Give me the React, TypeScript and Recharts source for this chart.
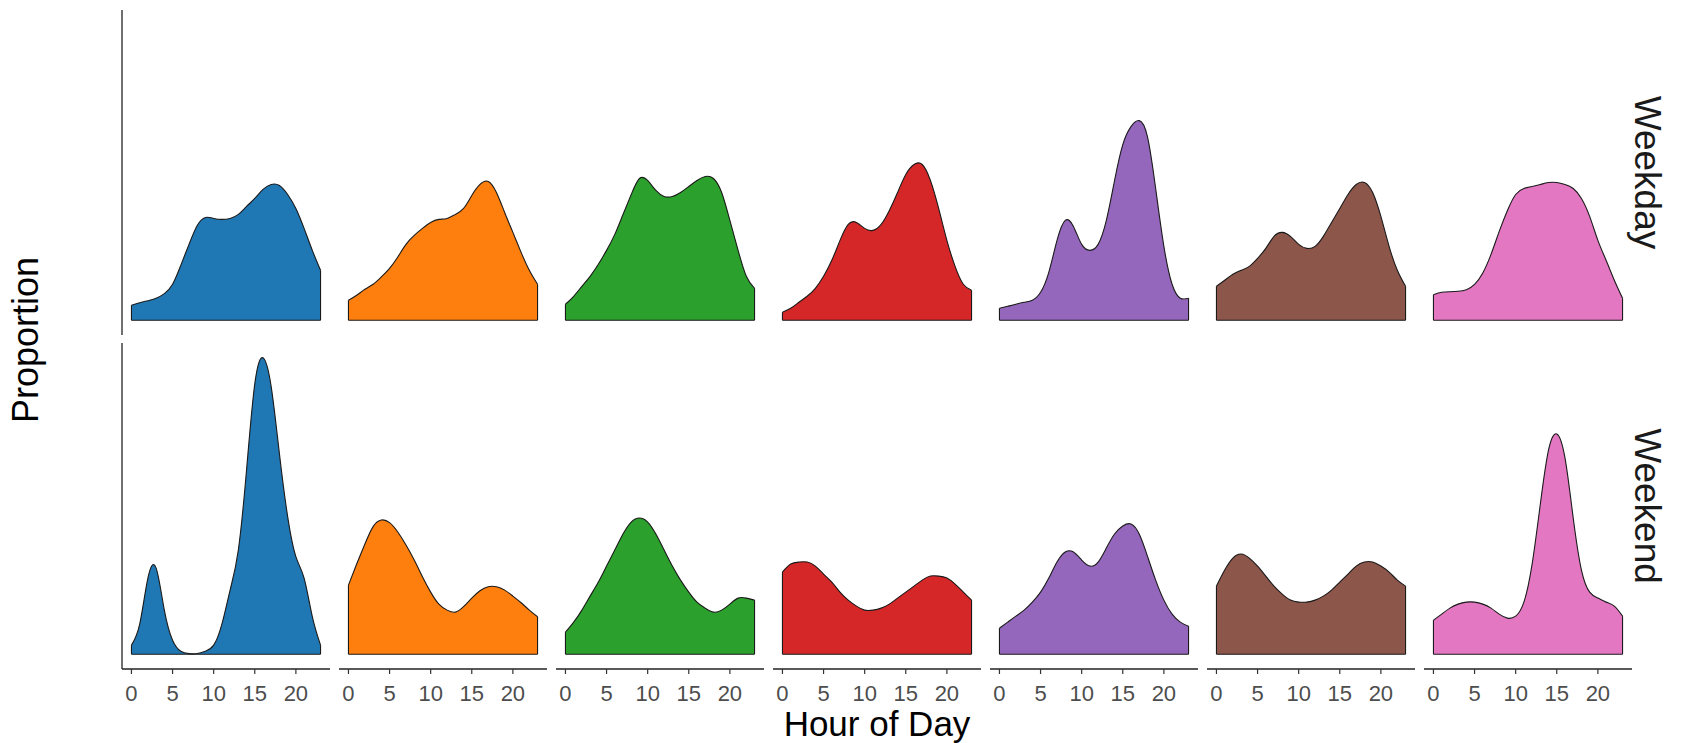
import { AreaChart, Area, XAxis, YAxis, ReferenceLine } from "recharts";

// Hour of day, one density value per hour
const hours = [0, 1, 2, 3, 4, 5, 6, 7, 8, 9, 10, 11, 12, 13, 14, 15, 16, 17, 18, 19, 20, 21, 22, 23];
const xTicks = [0, 5, 10, 15, 20];
const yTicks = [0, 0.05, 0.1];
const rowLabels = ["Weekday", "Weekend"];
const colors = ["#1f77b4", "#ff7f0e", "#2ca02c", "#d62728", "#9467bd", "#8c564b", "#e377c2"];

// Weekday densities, one array per panel (left to right)
const weekdayBlue = [0.0075, 0.0088, 0.0098, 0.011, 0.0133, 0.018, 0.0275, 0.038, 0.0475, 0.0515, 0.051, 0.0505, 0.051, 0.053, 0.057, 0.061, 0.0655, 0.068, 0.0675, 0.063, 0.056, 0.046, 0.035, 0.025];
const weekdayOrange = [0.01, 0.0125, 0.0155, 0.018, 0.0217, 0.026, 0.0317, 0.038, 0.0425, 0.046, 0.049, 0.0505, 0.051, 0.053, 0.056, 0.0625, 0.068, 0.0695, 0.064, 0.054, 0.044, 0.034, 0.025, 0.018];
const weekdayGreen = [0.008, 0.012, 0.017, 0.022, 0.028, 0.035, 0.043, 0.053, 0.063, 0.071, 0.07, 0.065, 0.062, 0.062, 0.064, 0.067, 0.07, 0.072, 0.071, 0.064, 0.05, 0.035, 0.022, 0.016];
const weekdayRed = [0.004, 0.006, 0.009, 0.012, 0.016, 0.022, 0.03, 0.04, 0.048, 0.049, 0.046, 0.045, 0.048, 0.055, 0.064, 0.073, 0.078, 0.078, 0.07, 0.056, 0.04, 0.027, 0.018, 0.015];
const weekdayPurple = [0.006, 0.007, 0.008, 0.009, 0.01, 0.014, 0.024, 0.04, 0.05, 0.047, 0.038, 0.035, 0.038, 0.05, 0.07, 0.088, 0.097, 0.1, 0.092, 0.066, 0.037, 0.018, 0.011, 0.011];
const weekdayBrown = [0.017, 0.02, 0.023, 0.025, 0.027, 0.031, 0.036, 0.042, 0.044, 0.042, 0.038, 0.036, 0.037, 0.042, 0.049, 0.056, 0.063, 0.068, 0.069, 0.064, 0.052, 0.037, 0.025, 0.017];
const weekdayPink = [0.0128, 0.014, 0.0143, 0.0145, 0.0153, 0.018, 0.0237, 0.033, 0.0445, 0.055, 0.063, 0.066, 0.067, 0.068, 0.069, 0.069, 0.068, 0.066, 0.061, 0.052, 0.04, 0.03, 0.02, 0.011];

// Weekend densities
const weekendBlue = [0.0045, 0.015, 0.038, 0.043, 0.022, 0.007, 0.0015, 0.0003, 0.0003, 0.0015, 0.0045, 0.015, 0.032, 0.052, 0.092, 0.135, 0.148, 0.1335, 0.1, 0.0687, 0.0487, 0.038, 0.0187, 0.0045];
const weekendOrange = [0.0345, 0.045, 0.055, 0.0637, 0.067, 0.0657, 0.061, 0.0545, 0.047, 0.0387, 0.031, 0.025, 0.022, 0.021, 0.0237, 0.028, 0.0317, 0.0337, 0.0337, 0.032, 0.029, 0.0257, 0.022, 0.0187];
const weekendGreen = [0.011, 0.016, 0.022, 0.029, 0.036, 0.044, 0.052, 0.06, 0.066, 0.068, 0.066, 0.06, 0.052, 0.044, 0.037, 0.031, 0.026, 0.023, 0.021, 0.022, 0.025, 0.028, 0.028, 0.027];
const weekendRed = [0.041, 0.045, 0.046, 0.046, 0.044, 0.04, 0.036, 0.031, 0.027, 0.024, 0.022, 0.022, 0.023, 0.025, 0.028, 0.031, 0.034, 0.037, 0.039, 0.039, 0.038, 0.035, 0.031, 0.027];
const weekendPurple = [0.013, 0.016, 0.019, 0.022, 0.026, 0.031, 0.038, 0.046, 0.051, 0.051, 0.047, 0.044, 0.046, 0.053, 0.06, 0.064, 0.065, 0.06, 0.049, 0.037, 0.027, 0.02, 0.016, 0.014];
const weekendBrown = [0.034, 0.042, 0.048, 0.05, 0.048, 0.044, 0.039, 0.034, 0.03, 0.027, 0.026, 0.026, 0.027, 0.029, 0.032, 0.036, 0.04, 0.044, 0.046, 0.046, 0.044, 0.041, 0.037, 0.034];
const weekendPink = [0.017, 0.02, 0.023, 0.025, 0.026, 0.026, 0.025, 0.023, 0.02, 0.018, 0.019, 0.026, 0.045, 0.075, 0.102, 0.11, 0.098, 0.068, 0.042, 0.031, 0.028, 0.026, 0.024, 0.019];

const weekdaySeries = [weekdayBlue, weekdayOrange, weekdayGreen, weekdayRed, weekdayPurple, weekdayBrown, weekdayPink];
const weekendSeries = [weekendBlue, weekendOrange, weekendGreen, weekendRed, weekendPurple, weekendBrown, weekendPink];

// layout (px)
const FONT = "'Liberation Sans', Arial, Helvetica, sans-serif";
const PANEL_LEFT = 122;
const PANEL_W = 208;
const PANEL_STEP = 217;
const Y_AXIS_W = 10;
const X_AXIS_H = 60;
const rowTops = [10, 343];
const rowHeights = [325, 326];

// shared y scale like facet_grid: 5% padding around [0, max]
const yMax = 0.148;
const yDomain = [-0.05 * yMax, 1.05 * yMax];
const xDomain = [-1.15, 24.15];
const outline = "#1a1a1a";

function Panel({ values, color, showX, showY }: { values: number[]; color: string; showX: boolean; showY: boolean }) {
  const data = hours.map((h, i) => ({ hour: h, p: values[i] }));
  const first = hours[0];
  const last = hours[hours.length - 1];
  const plotH = showX ? rowHeights[1] : rowHeights[0];
  return (
    <AreaChart
      width={PANEL_W + (showY ? Y_AXIS_W : 0)}
      height={plotH + (showX ? X_AXIS_H : 0)}
      data={data}
      margin={{ top: 0, right: 0, bottom: 0, left: 0 }}
    >
      <XAxis
        dataKey="hour"
        type="number"
        domain={xDomain}
        ticks={xTicks}
        interval={0}
        hide={!showX}
        height={X_AXIS_H}
        tickSize={5}
        tickMargin={11}
        axisLine={{ stroke: "#222", strokeWidth: 1.3 }}
        tickLine={{ stroke: "#333", strokeWidth: 1.2 }}
        tick={{ fontSize: 22, fill: "#4d4d4d", fontFamily: FONT }}
      />
      <YAxis
        type="number"
        domain={yDomain}
        ticks={yTicks}
        hide={!showY}
        width={Y_AXIS_W}
        tick={false}
        tickSize={3}
        axisLine={{ stroke: "#222", strokeWidth: 1.3 }}
        tickLine={{ stroke: "#333", strokeWidth: 1.2 }}
      />
      <Area
        type="natural"
        dataKey="p"
        baseValue={0}
        stroke={outline}
        strokeWidth={1.1}
        fill={color}
        fillOpacity={1}
        isAnimationActive={false}
      />
      <ReferenceLine segment={[{ x: first, y: 0 }, { x: first, y: values[0] }]} stroke={outline} strokeWidth={1.1} />
      <ReferenceLine segment={[{ x: last, y: 0 }, { x: last, y: values[values.length - 1] }]} stroke={outline} strokeWidth={1.1} />
      <ReferenceLine segment={[{ x: first, y: 0 }, { x: last, y: 0 }]} stroke={outline} strokeWidth={1.1} />
    </AreaChart>
  );
}

export default function App() {
  const rows = [weekdaySeries, weekendSeries];
  const panelsRight = PANEL_LEFT + PANEL_STEP * 6 + PANEL_W;
  return (
    <div style={{ position: "absolute", left: 0, top: 0, width: 1684, height: 743, background: "#fff", overflow: "hidden" }}>
      {rows.map((series, r) =>
        series.map((vals, c) => {
          const showY = c === 0;
          return (
            <div
              key={`${r}-${c}`}
              style={{
                position: "absolute",
                top: rowTops[r],
                left: PANEL_LEFT + PANEL_STEP * c - (showY ? Y_AXIS_W : 0),
              }}
            >
              <Panel values={vals} color={colors[c]} showX={r === 1} showY={showY} />
            </div>
          );
        })
      )}
      <svg width={1684} height={743} style={{ position: "absolute", left: 0, top: 0, pointerEvents: "none" }}>
        <text x={(PANEL_LEFT + panelsRight) / 2} y={736} textAnchor="middle" fontSize={35} fill="#000" fontFamily={FONT}>
          Hour of Day
        </text>
        <text x={38} y={340} transform="rotate(-90 38 340)" textAnchor="middle" fontSize={36} fill="#000" fontFamily={FONT}>
          Proportion
        </text>
        {rowLabels.map((label, r) => {
          const cy = rowTops[r] + rowHeights[r] / 2;
          return (
            <text key={label} x={1635} y={cy} transform={`rotate(90 1635 ${cy})`} textAnchor="middle" fontSize={37} fill="#1a1a1a" fontFamily={FONT}>
              {label}
            </text>
          );
        })}
      </svg>
    </div>
  );
}
